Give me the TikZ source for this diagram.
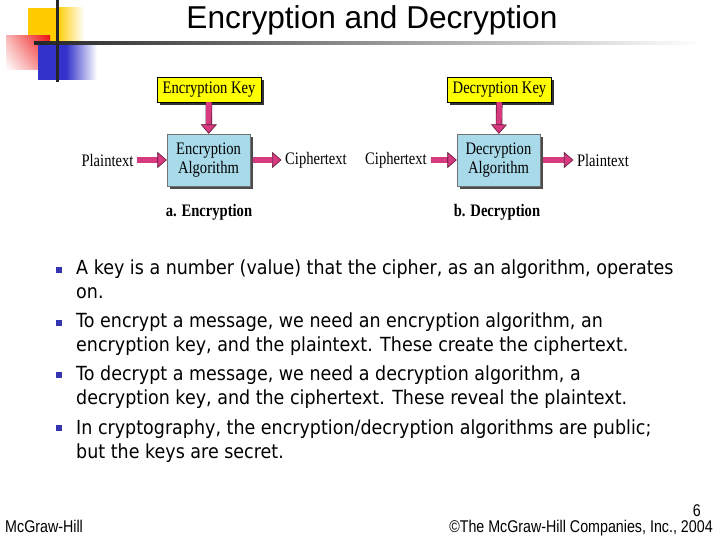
\documentclass[tikz,border=0pt]{standalone}
\usepackage{fontspec}
\setmainfont{Liberation Serif}
\newfontfamily\figfont[FakeStretch=0.83]{Liberation Serif}
\newfontfamily\titlefont{Liberation Sans}
\newfontfamily\footfont[FakeStretch=0.84]{Liberation Sans}
\newfontfamily\bodyfont[FakeStretch=0.9]{DejaVu Sans}
\usetikzlibrary{arrows.meta,positioning,shadows,shadings}
\definecolor{keyyellow}{HTML}{FFFF00}
\definecolor{algblue}{HTML}{A8DAEA}
\definecolor{arrowpink}{HTML}{D83A80}
\definecolor{arrowedge}{HTML}{5A1432}
\definecolor{bulletblue}{HTML}{3434B0}
\definecolor{logoyellow}{HTML}{FFCC00}
\definecolor{logored}{HTML}{EE1111}
\definecolor{logoblue}{HTML}{3333CC}
\definecolor{rulegray}{HTML}{262626}

\tikzset{
  keybox/.style={draw=black, line width=0.4pt, fill=keyyellow, minimum width=3.12cm, minimum height=0.75cm,
    inner sep=1pt, font=\figfont\fontsize{15}{17}\selectfont,
    drop shadow={shadow xshift=2.2pt, shadow yshift=-2.2pt, fill=black!80, opacity=1}},
  algbox/.style={draw=black!55, line width=0.4pt, fill=algblue, minimum width=2.49cm, minimum height=1.56cm,
    align=center, inner sep=1pt, font=\figfont\fontsize{15}{16.5}\selectfont,
    drop shadow={shadow xshift=2.5pt, shadow yshift=-2.5pt, fill=black!70, opacity=1}},
  flowlabel/.style={font=\figfont\fontsize{15}{17}\selectfont, inner sep=3pt},
  sublabel/.style={font=\figfont\fontsize{15}{17}\selectfont\bfseries},
  fatarrow/.style={draw=arrowedge, line width=0.5pt, double=arrowpink, double distance=0.16cm,
    -{Triangle[length=0.28cm, width=0.48cm, fill=arrowpink]}},
  bodyline/.style={anchor=base west, inner sep=0pt, font=\bodyfont\fontsize{16.6}{20}\selectfont},
  bulletsq/.style={fill=bulletblue, minimum size=0.16cm, inner sep=0pt},
  footer/.style={inner sep=0pt, font=\footfont\fontsize{14.5}{17}\selectfont}
}

\begin{document}
\begin{tikzpicture}[x=0.03cm, y=-0.03cm]
  \useasboundingbox (0,0) rectangle (720,540);
  \fill[white] (0,0) rectangle (720,540);

  % logo in the corner
  \fill[logoyellow] (28,8) rectangle (57,43);
  \shade[left color=logoyellow, right color=white] (57,8) rectangle (84,43);
  \shade[upper left=logored!30, upper right=logored, lower left=white, lower right=logored!55] (6,36) rectangle (50,70);
  \fill[logoblue] (38,42) rectangle (66,80);
  \shade[left color=logoblue, right color=white] (66,42) rectangle (97,80);
  \shade[left color=rulegray, right color=white] (34,42) rectangle (700,45);
  \fill[rulegray] (55.5,0) rectangle (58.5,82);

  \node[font=\titlefont\fontsize{27}{32}\selectfont] (title) at (372,20) {Encryption and Decryption};

  % a. encryption
  \node[keybox] (ekey) at (209,89.5) {Encryption Key};
  \node[algbox] (ealg) at (208.5,160) {Encryption\\Algorithm};
  \node[flowlabel] (eplain) at (107.5,160) {Plaintext};
  \node[flowlabel] (ecipher) at (316,160) {Ciphertext};
  \node[sublabel] (ecap) at (209,212) {a. Encryption};
  \draw[fatarrow] (ekey) -- (ealg);
  \draw[fatarrow] (eplain) -- (ealg);
  \draw[fatarrow, shorten <=2pt] (ealg) -- (ecipher);

  % b. decryption
  \node[keybox] (dkey) at (499.5,89.5) {Decryption Key};
  \node[algbox] (dalg) at (498.5,160) {Decryption\\Algorithm};
  \node[flowlabel] (dcipher) at (396,160) {Ciphertext};
  \node[flowlabel] (dplain) at (603,160) {Plaintext};
  \node[sublabel] (dcap) at (497,212) {b. Decryption};
  \draw[fatarrow] (dkey) -- (dalg);
  \draw[fatarrow] (dcipher) -- (dalg);
  \draw[fatarrow, shorten <=2pt] (dalg) -- (dplain);

  % bullet list
  \foreach \yy [count=\i] in {270,323,375,428}
    \node[bulletsq] (b\i) at (59,\yy) {};
  \foreach \yy/\txt [count=\i] in {
      275/{A key is a number (value) that the cipher, as an algorithm, operates},
      299/{on.},
      328/{To encrypt a message, we need an encryption algorithm, an},
      352/{encryption key, and the plaintext. These create the ciphertext.},
      381/{To decrypt a message, we need a decryption algorithm, a},
      405/{decryption key, and the ciphertext. These reveal the plaintext.},
      434/{In cryptography, the encryption/decryption algorithms are public;},
      458/{but the keys are secret.}}
    \node[bodyline] (line\i) at (76,\yy) {\txt};

  \node[footer, anchor=base west] (publisher) at (5,532) {McGraw-Hill};
  \node[footer, anchor=base east] (copyright) at (713,532) {©The McGraw-Hill Companies, Inc., 2004};
  \node[footer, anchor=base east] (pageno) at (701,516.5) {6};
\end{tikzpicture}
\end{document}
